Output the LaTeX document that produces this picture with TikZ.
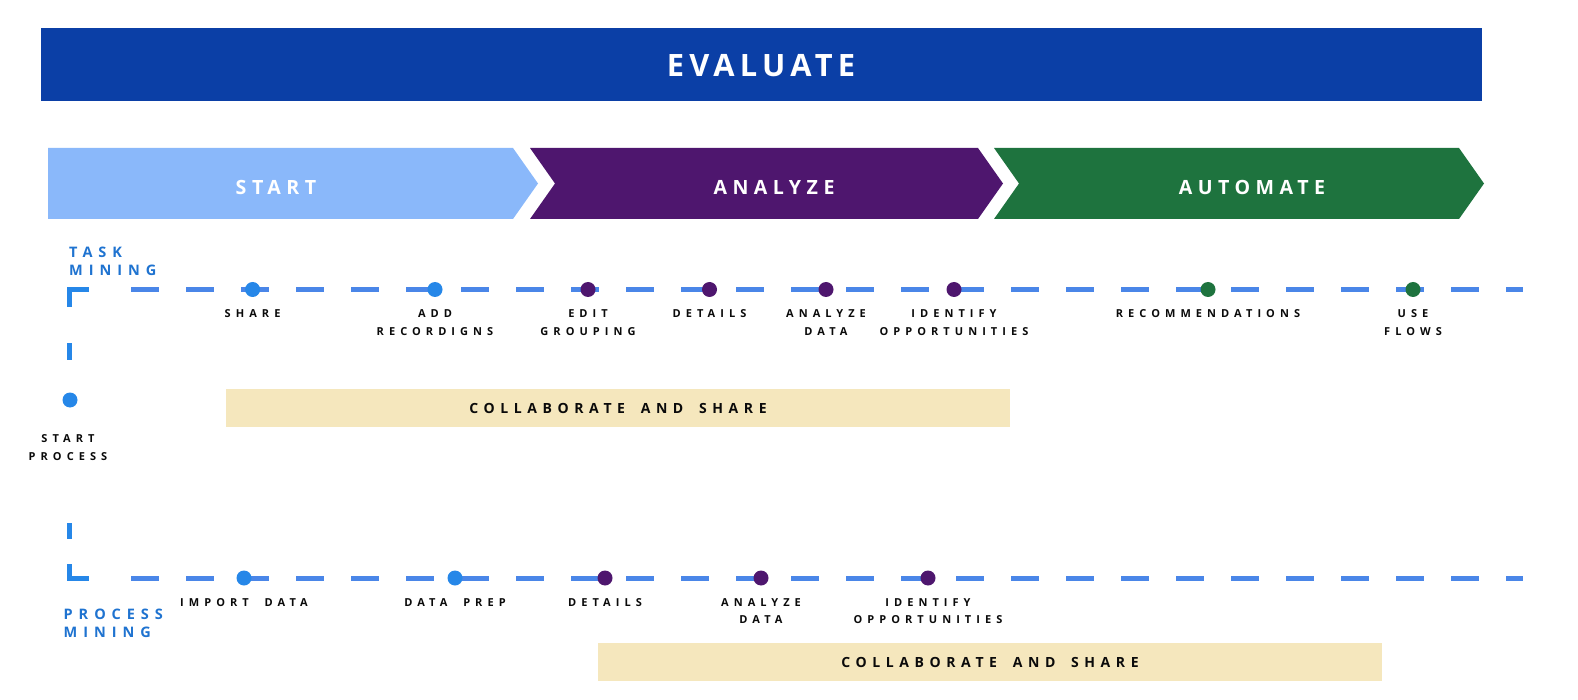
\documentclass[tikz,border=0pt]{standalone}
\usepackage{fontspec}
\setmainfont{Open Sans}
\newfontfamily\lblfont[LetterSpace=46, WordSpace=2.0]{Open Sans}
\newfontfamily\collabfont[LetterSpace=40, WordSpace=1.7]{Open Sans}
\usepackage{xcolor}
\usepackage{tikz}
\usetikzlibrary{positioning}
\definecolor{evalblue}{RGB}{11,63,166}
\definecolor{startblue}{RGB}{138,184,250}
\definecolor{analyzepurple}{RGB}{78,22,110}
\definecolor{automategreen}{RGB}{30,115,62}
\definecolor{lineblue}{RGB}{74,134,232}
\definecolor{dotblue}{RGB}{38,135,232}
\definecolor{headblue}{RGB}{31,115,208}
\definecolor{collabbeige}{RGB}{245,231,189}
\definecolor{labelblack}{RGB}{10,10,10}

\begin{document}
\begin{tikzpicture}[
  x=1pt, y=-1pt,
  bar/.style={fill=evalblue, minimum width=1441pt, minimum height=73pt, inner sep=0pt},
  bigtitle/.style={text=white, inner sep=0pt,
    font={\bfseries\fontsize{30.8}{34}\selectfont\addfontfeature{LetterSpace=17}}},
  hdr/.style={text=white, inner sep=0pt,
    font={\bfseries\fontsize{19.6}{24}\selectfont\addfontfeature{LetterSpace=28}}},
  dashline/.style={draw=lineblue, line width=5pt, dash pattern=on 28pt off 27pt},
  brk/.style={draw=dotblue, line width=5pt},
  dot/.style={circle, inner sep=0pt, minimum size=15pt},
  lbl/.style={inner sep=0pt, align=center, text=labelblack,
    font={\lblfont\bfseries\fontsize{11}{17.5}\selectfont}},
  side/.style={inner sep=0pt, align=left, text=headblue, anchor=north west,
    font={\bfseries\fontsize{14.5}{18}\selectfont\addfontfeature{LetterSpace=41}}},
  collab/.style={fill=collabbeige, minimum height=38pt, inner sep=0pt},
  collabtxt/.style={inner sep=0pt, text=labelblack,
    font={\collabfont\bfseries\fontsize{14}{17}\selectfont}}
]
  \useasboundingbox (0,0) rectangle (1578,700);

  % evaluate bar
  \node[bar] (evalbar) at (761.5,64.5) {};
  \node[bigtitle] at (761,66) {EVALUATE};

  % phase chevrons
  \fill[startblue] (48,148) -- (513,148) -- (538,183.5) -- (513,219) -- (48,219) -- cycle;
  \fill[analyzepurple] (530,148) -- (978,148) -- (1003,183.5) -- (978,219) -- (530,219) -- (555,183.5) -- cycle;
  \fill[automategreen] (994,148) -- (1459,148) -- (1484,183.5) -- (1459,219) -- (994,219) -- (1019,183.5) -- cycle;
  \node[hdr] (startlbl) at (276,187.5) {START};
  \node[hdr] (analyzelbl) at (774,187.5) {ANALYZE};
  \node[hdr] (automatelbl) at (1252,187.5) {AUTOMATE};

  % side bracket
  \coordinate (bt0) at (89,289.5);
  \coordinate (bt1) at (69,289.5);
  \coordinate (bt2) at (69,307);
  \coordinate (bt3) at (69,343);
  \coordinate (bt4) at (69,360);
  \coordinate (bb4) at (69,523);
  \coordinate (bb3) at (69,539);
  \coordinate (bb2) at (69,564);
  \coordinate (bb1) at (69,578.5);
  \coordinate (bb0) at (89,578.5);
  \draw[brk] (bt0) -- (bt1) -- (bt2);
  \draw[brk] (bt3) -- (bt4);
  \draw[brk] (bb4) -- (bb3);
  \draw[brk] (bb2) -- (bb1) -- (bb0);
  \node[dot, fill=dotblue] (startdot) at (70,400) {};
  \node[lbl, below=27pt of startdot, xshift=-2pt] (startproc) {START\\PROCESS};
  \node[side] (taskmining) at (69,247) {TASK\\MINING};
  \node[side] (procmining) at (63.5,609) {PROCESS\\MINING};

  % task mining track
  \coordinate (tl) at (131,289.5);
  \coordinate (tr) at (1523,289.5);
  \draw[dashline] (tl) -- (tr);
  \foreach \x/\n/\c/\t in {252.6/t1/dotblue/SHARE, 435/t2/dotblue/{ADD\\RECORDIGNS},
      588/t3/analyzepurple/{EDIT\\GROUPING}, 709.5/t4/analyzepurple/DETAILS,
      826/t5/analyzepurple/{ANALYZE\\DATA}, 954/t6/analyzepurple/{IDENTIFY\\OPPORTUNITIES},
      1208/t7/automategreen/RECOMMENDATIONS, 1413/t8/automategreen/{USE\\FLOWS}} {
    \node[dot, fill=\c] (\n) at (\x,289.5) {};
    \node[lbl, below=12.5pt of \n] (\n-lbl) {\t};
  }

  % process mining track
  \coordinate (pl) at (131,578);
  \coordinate (pr) at (1523,578);
  \draw[dashline] (pl) -- (pr);
  \foreach \x/\n/\c/\t in {244/p1/dotblue/{IMPORT DATA}, 455/p2/dotblue/{DATA PREP},
      605/p3/analyzepurple/DETAILS, 761/p4/analyzepurple/{ANALYZE\\DATA},
      928/p5/analyzepurple/{IDENTIFY\\OPPORTUNITIES}} {
    \node[dot, fill=\c] (\n) at (\x,578) {};
    \node[lbl, below=12.5pt of \n] (\n-lbl) {\t};
  }

  % collaboration bands
  \node[collab, minimum width=784pt] (collabtask) at (618,408) {};
  \node[collabtxt] at (collabtask) {COLLABORATE AND SHARE};
  \node[collab, minimum width=784pt] (collabproc) at (990,662) {};
  \node[collabtxt] at (collabproc) {COLLABORATE AND SHARE};
\end{tikzpicture}
\end{document}
